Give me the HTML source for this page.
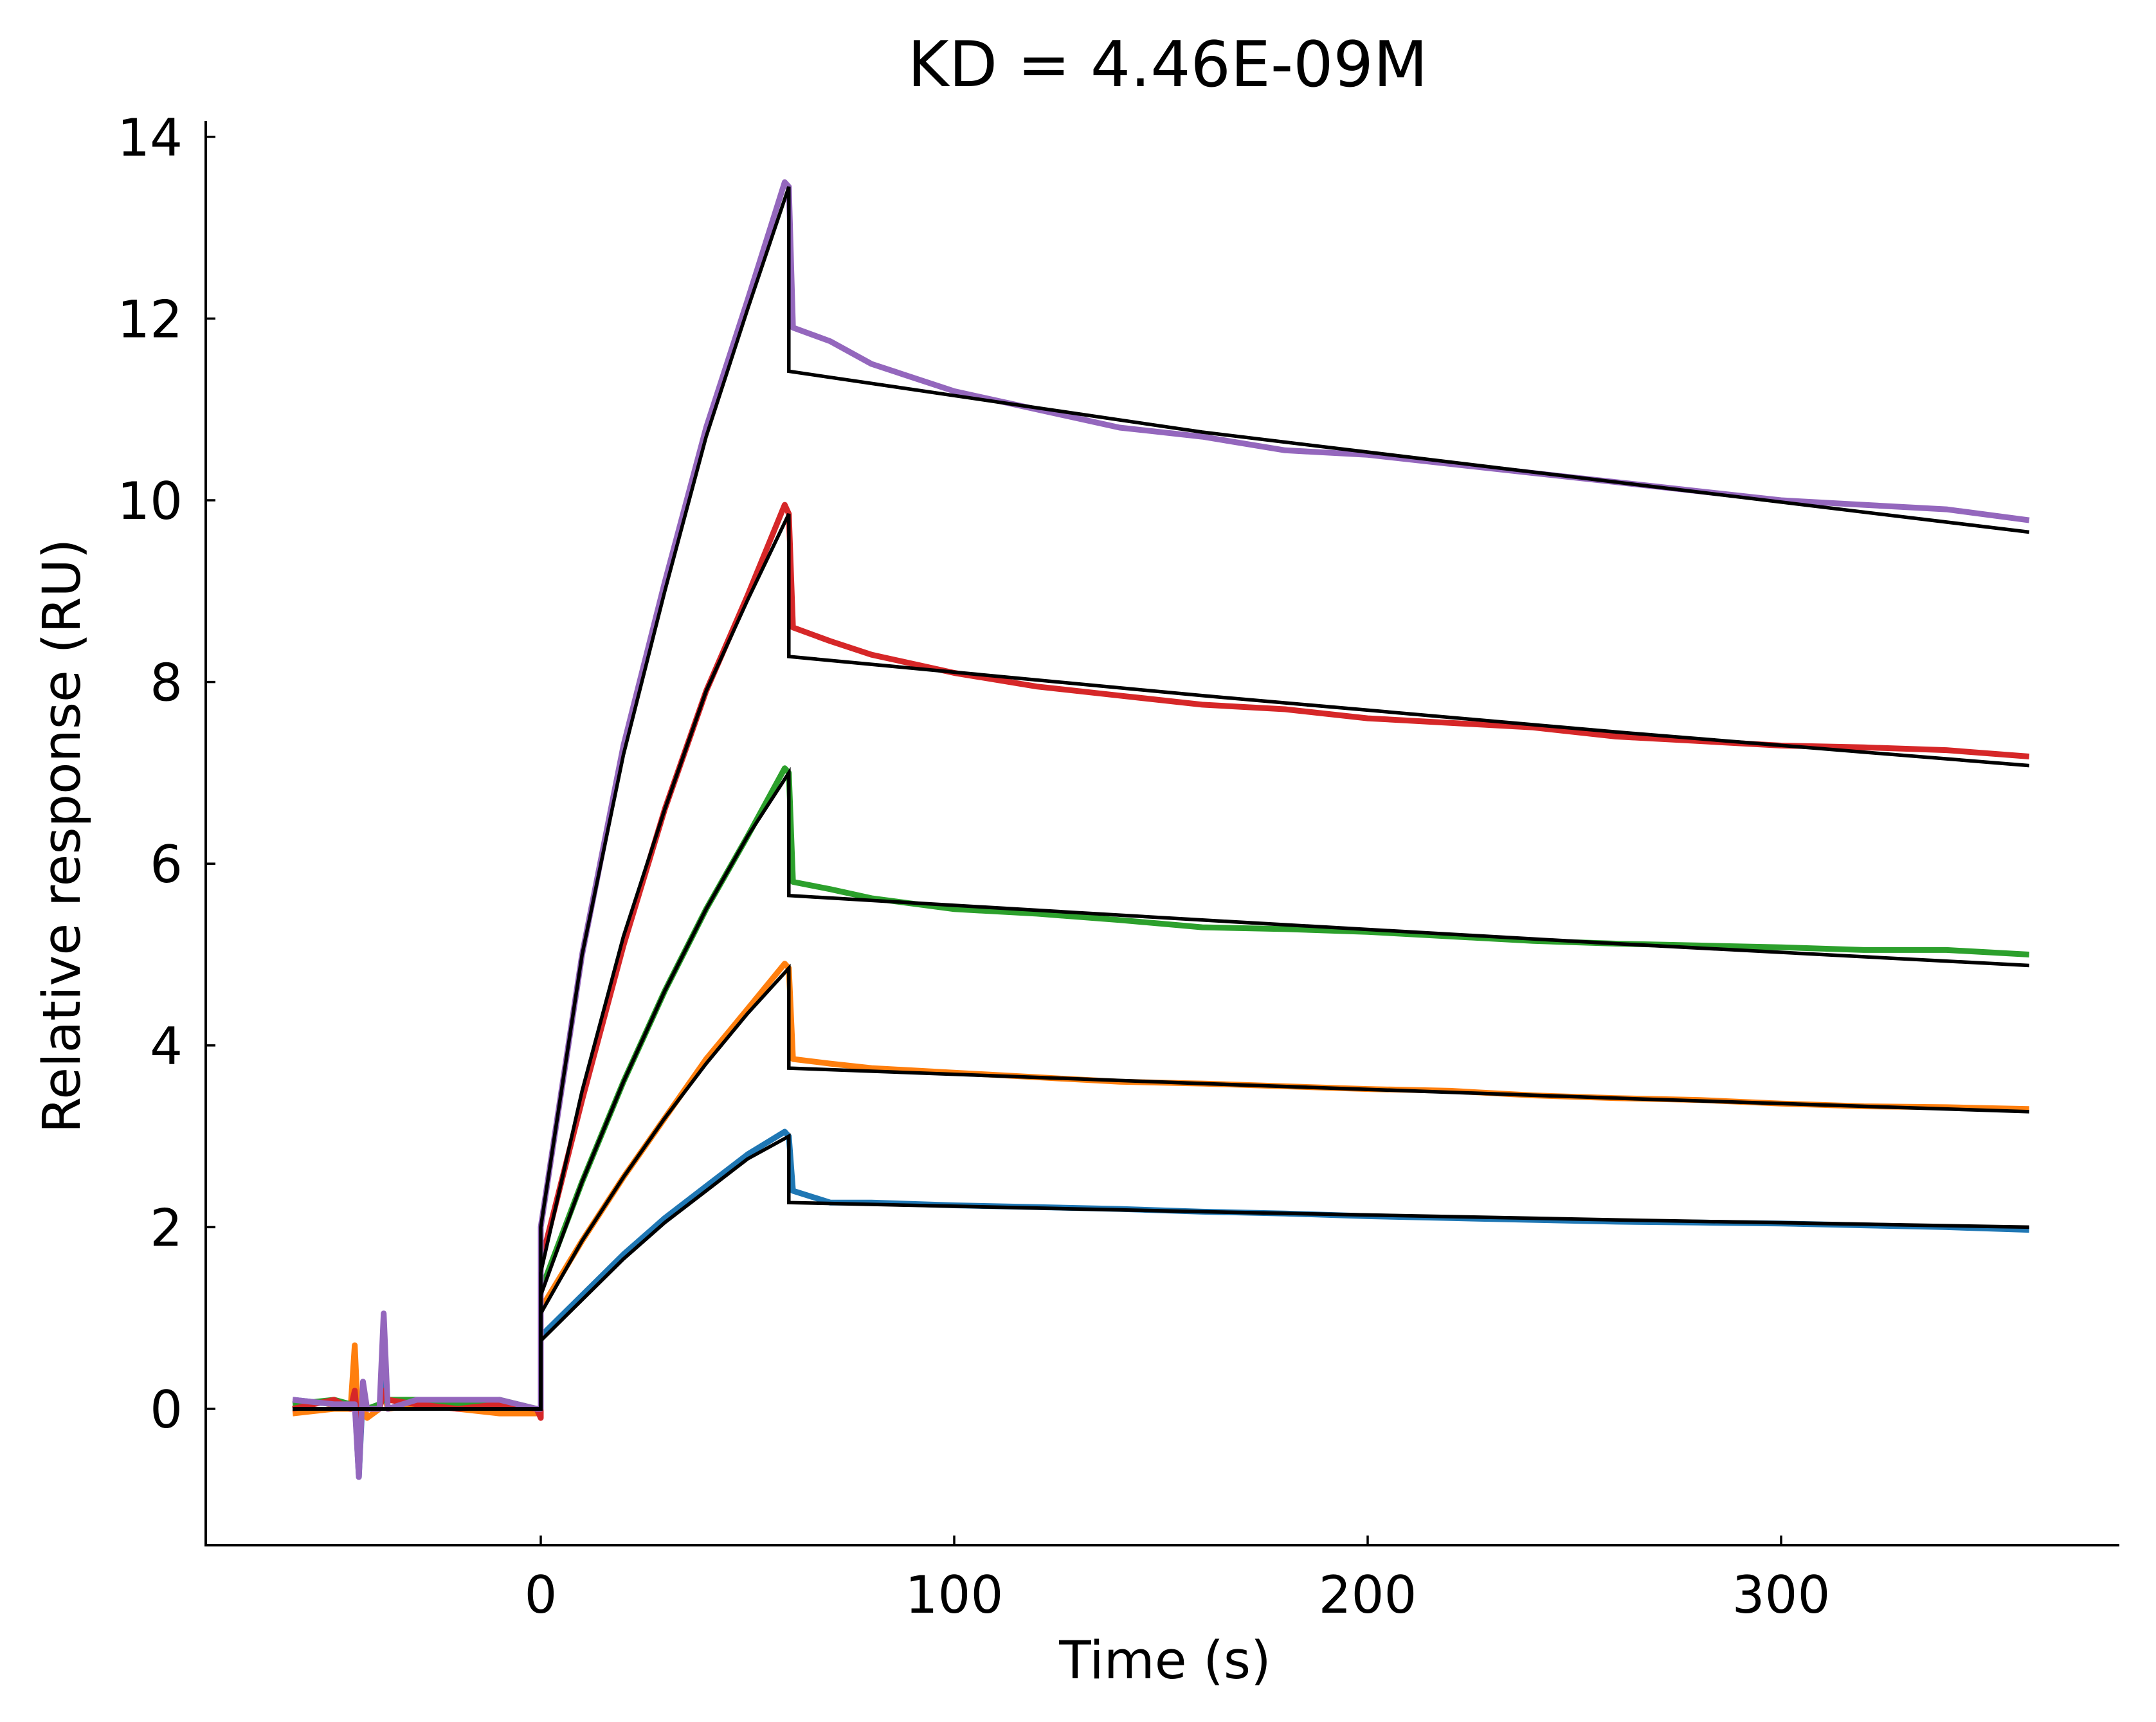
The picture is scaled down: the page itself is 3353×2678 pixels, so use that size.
<!DOCTYPE html>
<html><head><meta charset="utf-8"><style>
html,body{margin:0;padding:0;background:#fff;}
svg{display:block;font-family:"DejaVu Sans","Liberation Sans",sans-serif;}
</style></head><body>
<svg id="chart" width="3353" height="2678" viewBox="0 0 3353 2678" xmlns="http://www.w3.org/2000/svg">
<rect width="3353" height="2678" fill="#fff"/>
<text x="1816" y="134" font-size="98" text-anchor="middle">KD = 4.46E-09M</text>
<g id="plot"></g>
<g id="axes"></g>
<text x="1812" y="2610" font-size="81" text-anchor="middle">Time (s)</text>
<text transform="translate(124,1300) rotate(-90)" font-size="81" text-anchor="middle">Relative response (RU)</text>
</svg>
<script>
const seriesNames = ["blue","orange","green","red","purple"];
const seriesColors = ["#1f77b4","#ff7f0e","#2ca02c","#d62728","#9467bd"];
const xTicks = [0,100,200,300];
const yTicks = [0,2,4,6,8,10,12,14];
const assocTimes = [0,10,20,30,40,50,60];
const fitAssoc = [
 [0.75,1.2,1.65,2.05,2.4,2.75,3.0],
 [1.05,1.85,2.55,3.2,3.8,4.35,4.85],
 [1.25,2.5,3.6,4.6,5.5,6.3,7.0],
 [1.5,3.5,5.2,6.6,7.9,8.9,9.85],
 [2.0,5.0,7.2,9.0,10.7,12.1,13.45]
];
const dissTimes = [60,160,260,360];
const fitDiss = [
 [2.27,2.17,2.08,2.0],
 [3.75,3.58,3.42,3.27],
 [5.65,5.38,5.12,4.88],
 [8.28,7.85,7.45,7.08],
 [11.42,10.75,10.2,9.65]
];
const baseTimes = [-60,-50,-46,-45,-44,-43,-42,-39,-38,-37,-30,-20,-10,-1,0];
const baseData = [
 [0.1,0.05,0.0,0.1,-0.75,0.2,0.0,0.0,0.3,0.0,0.05,0.05,0.05,0.0,0.0],
 [-0.05,0.0,0.0,0.7,-0.3,0.1,-0.1,0.0,0.2,0.0,0.05,0.0,-0.05,-0.05,0.0],
 [0.05,0.1,0.05,0.0,-0.2,0.1,0.0,0.05,0.1,0.1,0.1,0.05,0.1,0.0,0.0],
 [0.0,0.1,0.0,0.2,-0.3,0.1,0.0,0.0,0.2,0.1,0.05,0.0,0.05,0.0,-0.1],
 [0.1,0.05,0.05,0.05,-0.75,0.3,0.0,0.0,1.05,0.0,0.1,0.1,0.1,0.0,0.0]
];
const dataAssocTimes = [0,10,20,30,40,50,59,60];
const dataAssoc = [
 [0.8,1.25,1.7,2.1,2.45,2.8,3.05,3.0],
 [1.1,1.85,2.55,3.2,3.85,4.4,4.9,4.85],
 [1.3,2.5,3.6,4.6,5.5,6.3,7.05,7.0],
 [1.6,3.4,5.1,6.6,7.9,8.95,9.95,9.85],
 [2.0,5.0,7.3,9.1,10.8,12.2,13.5,13.45]
];
const dataDissTimes = [61,70,80,100,120,140,160,180,200,220,240,260,280,300,320,340,360];
const dataDiss = [
 [2.4,2.27,2.27,2.24,2.22,2.2,2.17,2.15,2.12,2.1,2.08,2.06,2.05,2.04,2.02,2.0,1.97],
 [3.85,3.8,3.75,3.7,3.65,3.6,3.58,3.55,3.52,3.5,3.45,3.42,3.4,3.36,3.33,3.32,3.3],
 [5.8,5.72,5.62,5.5,5.45,5.38,5.3,5.28,5.25,5.2,5.15,5.12,5.1,5.08,5.05,5.05,5.0],
 [8.6,8.45,8.3,8.1,7.95,7.85,7.75,7.7,7.6,7.55,7.5,7.4,7.35,7.3,7.28,7.25,7.18],
 [11.9,11.75,11.5,11.2,11.0,10.8,10.7,10.55,10.5,10.4,10.3,10.2,10.1,10.0,9.95,9.9,9.78]
];

const X0=841, XS=6.43, Y0=2191, YS=141.3;
const xs=t=>X0+t*XS, ys=v=>Y0-v*YS;
const NS="http://www.w3.org/2000/svg";
const plot=document.getElementById("plot"), axes=document.getElementById("axes");
function mk(tag,attrs,parent){const e=document.createElementNS(NS,tag);for(const k in attrs)e.setAttribute(k,attrs[k]);parent.appendChild(e);return e;}
function pts(ts,vs){return ts.map((t,i)=>xs(t).toFixed(1)+","+ys(vs[i]).toFixed(1)).join(" ");}

seriesNames.forEach((n,i)=>{
  const p=pts(baseTimes,baseData[i])+" "+pts(dataAssocTimes,dataAssoc[i])+" "+pts(dataDissTimes,dataDiss[i]);
  const el=mk("polyline",{points:p,fill:"none",stroke:seriesColors[i],"stroke-width":9,"stroke-linejoin":"round"},plot);
  
  
});
seriesNames.forEach((n,i)=>{
  const p=xs(-60)+","+ys(0)+" "+xs(0)+","+ys(0)+" "+pts(assocTimes,fitAssoc[i])+" "+pts(dissTimes,fitDiss[i]);
  const el=mk("polyline",{points:p,fill:"none",stroke:"#000","stroke-width":5.5},plot);
  
  
});

let sp=mk("line",{x1:320,y1:188,x2:320,y2:2403,stroke:"#000","stroke-width":4},axes);


sp=mk("line",{x1:318,y1:2403,x2:3296,y2:2403,stroke:"#000","stroke-width":4},axes);



yTicks.forEach(v=>{
  const y=ys(v);
  const t=mk("line",{x1:320,y1:y,x2:335,y2:y,stroke:"#000","stroke-width":3.5},axes);
  
  
  const l=mk("text",{x:284,y:y+29,"font-size":80,"text-anchor":"end"},axes);
  l.textContent=v;
  
  
});
xTicks.forEach(v=>{
  const x=xs(v);
  const t=mk("line",{x1:x,y1:2403,x2:x,y2:2388,stroke:"#000","stroke-width":3.5},axes);
  
  
  const l=mk("text",{x:x,y:2508,"font-size":80,"text-anchor":"middle"},axes);
  l.textContent=v;
  
  
});
</script>
</body></html>
